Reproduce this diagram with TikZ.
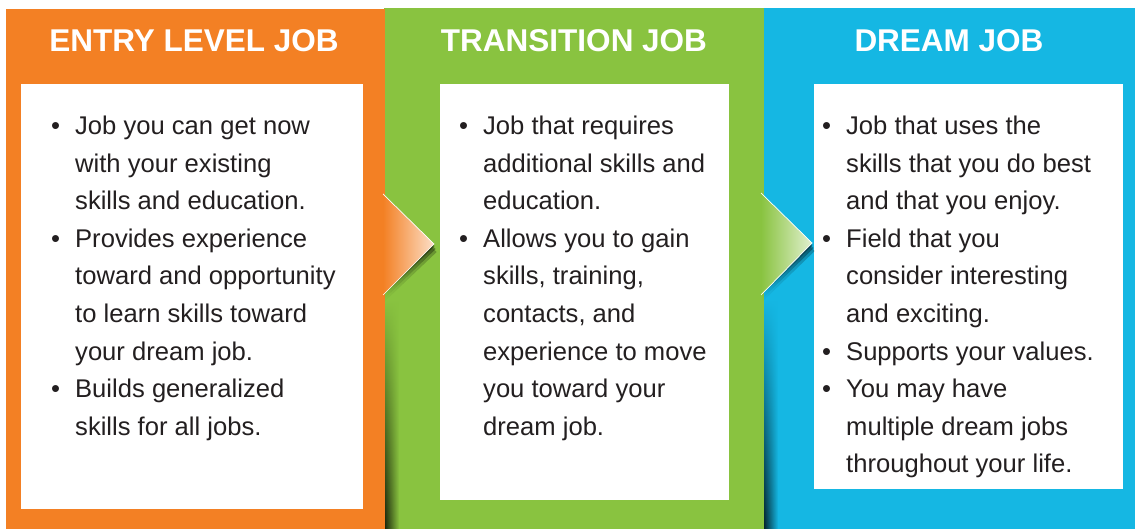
\documentclass[tikz,border=0pt]{standalone}
\usepackage{fontspec}
\setmainfont{Liberation Sans}
\usetikzlibrary{fadings}
\definecolor{jorange}{RGB}{243,128,36}
\definecolor{jgreen}{RGB}{137,195,64}
\definecolor{jblue}{RGB}{21,183,227}
\definecolor{jtext}{RGB}{35,31,32}
\tikzfading[name=faderight, left color=transparent!0, right color=transparent!100]
\tikzfading[name=fadeleft, left color=transparent!100, right color=transparent!0]
\newcommand\jbul{\llap{\textbullet\hspace{15pt}}}
\begin{document}
\begin{tikzpicture}[x=1pt,y=-1pt,
 head/.style={anchor=base, inner sep=0pt, text=white, font=\fontsize{31.5}{36}\selectfont\bfseries},
 body/.style={anchor=base west, inner sep=0pt, text=jtext, font=\fontsize{25.6}{37.5}\selectfont},
 card/.style={fill=white},
 pshadow/.style={path fading=faderight},
 arrowedge/.style={draw=white, line width=0.7pt},
]
\useasboundingbox (0,0) rectangle (1135,529);
\fill[white] (0,0) rectangle (1135,529);
% blue panel
\fill[jblue] (763,8) rectangle (1135,529);
\fill[card] (814,84) rectangle (1123,489);
% green panel
\fill[jgreen] (384,8) rectangle (764,529);
\fill[card] (440,84) rectangle (729,500);
\shade[pshadow, top color=jblue, middle color=black!30!jblue, bottom color=black!80!jblue] (764,300) rectangle (778,529);
% orange panel
\fill[jorange] (6,9) rectangle (385,529);
\fill[card] (21,84) rectangle (363,509);
\shade[pshadow, top color=jgreen, middle color=black!30!jgreen, bottom color=black!80!jgreen] (385,300) rectangle (399,529);
% arrow shadows
\foreach \s/\o in {2/0.4,5/0.35,8/0.25}{
  \fill[black, opacity=\o, path fading=fadeleft] (383,{194+\s}) -- ({434+\s/3},{244+\s}) -- (383,{295+\s}) -- cycle;
  \fill[black, opacity=\o, path fading=fadeleft] (761,{193+\s}) -- ({812+\s/3},{243+\s}) -- (761,{295+\s}) -- cycle;
}
% arrows
\shade[left color=jorange, right color=jorange!25!white] (383,194) -- (434,244) -- (383,295) -- cycle;
\draw[arrowedge] (383,194) -- (434,244) -- (383,295);
\shade[left color=jgreen, right color=jgreen!25!white] (761,193) -- (812,243) -- (761,295) -- cycle;
\draw[arrowedge] (761,193) -- (812,243) -- (761,295);
% headers
\node[head] (h1) at (194,52) {ENTRY LEVEL JOB};
\node[head] (h2) at (574,52) {TRANSITION JOB};
\node[head] (h3) at (949,52) {DREAM JOB};
% body text
\foreach [count=\i] \t in {{\jbul Job you can get now},{with your existing},{skills and education.},{\jbul Provides experience},{toward and opportunity},{to learn skills toward},{your dream job.},{\jbul Builds generalized},{skills for all jobs.}}
  \node[body] (o\i) at (75,{135+37.5*(\i-1)}) {\t};
\foreach [count=\i] \t in {{\jbul Job that requires},{additional skills and},{education.},{\jbul Allows you to gain},{skills, training,},{contacts, and},{experience to move},{you toward your},{dream job.}}
  \node[body] (g\i) at (483,{135+37.5*(\i-1)}) {\t};
\foreach [count=\i] \t in {{\jbul Job that uses the},{skills that you do best},{and that you enjoy.},{\jbul Field that you},{consider interesting},{and exciting.},{\jbul Supports your values.},{\jbul You may have},{multiple dream jobs},{throughout your life.}}
  \node[body] (b\i) at (846,{135+37.5*(\i-1)}) {\t};
\end{tikzpicture}
\end{document}
